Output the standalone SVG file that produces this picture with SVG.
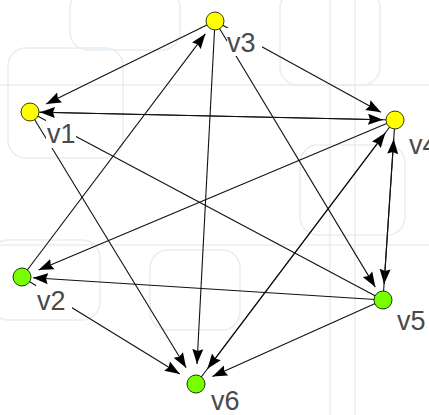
<svg xmlns="http://www.w3.org/2000/svg" width="429" height="415" viewBox="0 0 429 415">
<style>
.bg{fill:none;stroke:#e6eef2;stroke-width:1.5}
.e{stroke:#111;stroke-width:1.1;fill:none}
.a{marker-end:url(#arr)}
.y{fill:#ffff00;stroke:#3a3a00;stroke-width:1}
.g{fill:#77ff00;stroke:#1a3a00;stroke-width:1}
.lb{fill:#ffffff}
.t{font-family:"Liberation Sans",Arial,sans-serif;font-size:27px;fill:#4a4a4a}
</style>
<defs>
<marker id="arr" markerUnits="userSpaceOnUse" markerWidth="16" markerHeight="12" refX="15" refY="6" orient="auto">
<path d="M0,0.5 L15,6 L0,11.5 L2,6 z" fill="#000"/>
</marker>
</defs>
<rect width="429" height="415" fill="#ffffff"/>
<g id="background">
<rect class="bg" x="8" y="48" width="115" height="110" rx="18"/>
<rect class="bg" x="70" y="-10" width="110" height="60" rx="18"/>
<rect class="bg" x="280" y="-10" width="100" height="95" rx="18"/>
<rect class="bg" x="300" y="145" width="105" height="90" rx="18"/>
<rect class="bg" x="-10" y="240" width="110" height="80" rx="18"/>
<rect class="bg" x="150" y="250" width="90" height="80" rx="18"/>
<line class="bg" x1="330" y1="0" x2="330" y2="415"/>
<line class="bg" x1="355" y1="0" x2="355" y2="415"/>
<line class="bg" x1="0" y1="245" x2="429" y2="245"/>
<line class="bg" x1="0" y1="85" x2="429" y2="85"/>
</g>
<g id="connectors">
<line class="e a" x1="215" y1="21" x2="46.1" y2="104.1"/>
<line class="e a" x1="30" y1="112" x2="383" y2="119.7"/>
<line class="e a" x1="395" y1="120" x2="40" y2="112.2"/>
<line class="e a" x1="30" y1="112" x2="186.1" y2="367.8"/>
<line class="e" x1="30" y1="112" x2="383" y2="300"/>
<line class="e a" x1="22" y1="277" x2="205.4" y2="33.8"/>
<line class="e a" x1="395" y1="120" x2="38.6" y2="270"/>
<line class="e a" x1="383" y1="300" x2="33" y2="277.7"/>
<line class="e a" x1="22" y1="277" x2="179.8" y2="374"/>
<line class="e a" x1="215" y1="21" x2="381" y2="112.3"/>
<line class="e a" x1="215" y1="21" x2="375.3" y2="287.1"/>
<line class="e a" x1="215" y1="21" x2="197" y2="364"/>
<line class="e a" x1="196" y1="384" x2="385.4" y2="132.8"/>
<line class="e a" x1="395" y1="120" x2="207.4" y2="368.8"/>
<line class="e a" x1="395" y1="120" x2="384.1" y2="284"/>
<line class="e a" x1="383" y1="300" x2="393.7" y2="139"/>
<line class="e a" x1="383" y1="300" x2="212.4" y2="376.6"/>
</g>
<g id="v1"><circle class="y" cx="30" cy="112" r="9"/><rect class="lb" x="46" y="120" width="30" height="28"/><text class="t" x="47" y="143">v1</text></g>
<g id="v2"><circle class="g" cx="22" cy="277" r="9"/><rect class="lb" x="36" y="285" width="36" height="29"/><text class="t" x="37" y="310">v2</text></g>
<g id="v3"><circle class="y" cx="215" cy="21" r="9"/><rect class="lb" x="227" y="28" width="35" height="28"/><text class="t" x="227" y="52">v3</text></g>
<g id="v4"><circle class="y" cx="395" cy="120" r="9"/><rect class="lb" x="408" y="130" width="21" height="28"/><text class="t" x="409" y="154">v4</text></g>
<g id="v5"><circle class="g" cx="383" cy="300" r="9"/><rect class="lb" x="396" y="306" width="33" height="28"/><text class="t" x="397" y="330">v5</text></g>
<g id="v6"><circle class="g" cx="196" cy="384" r="9"/><rect class="lb" x="210" y="389" width="36" height="26"/><text class="t" x="211" y="410">v6</text></g>
</svg>
